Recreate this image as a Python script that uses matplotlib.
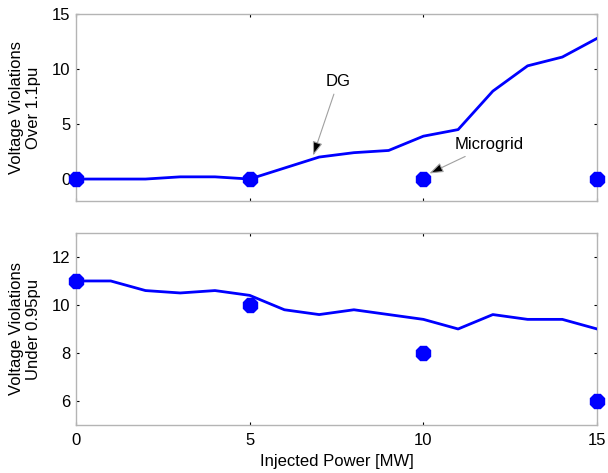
import matplotlib
matplotlib.use('Agg')
import matplotlib.pyplot as plt

plt.rcParams['font.family'] = ['Liberation Sans', 'DejaVu Sans']

# injected power [MW]
power = list(range(16))
# DG case (line)
dg_over = [0, 0, 0, 0.2, 0.2, 0, 1.0, 2.0, 2.4, 2.6, 3.9, 4.5, 8.0, 10.3, 11.1, 12.8]
dg_under = [11.0, 11.0, 10.6, 10.5, 10.6, 10.4, 9.8, 9.6, 9.8, 9.6, 9.4, 9.0, 9.6, 9.4, 9.4, 9.0]
# Microgrid case (markers)
mg_power = [0, 5, 10, 15]
mg_over = [0, 0, 0, 0]
mg_under = [11, 10, 8, 6]

BLUE = '#0000ff'
fig = plt.figure(figsize=(6.08, 4.73), dpi=100)
ax1 = fig.add_axes([0.125, 0.575, 0.857, 0.395])
ax2 = fig.add_axes([0.125, 0.1015, 0.857, 0.406])

for ax in (ax1, ax2):
    ax.plot(power, dg_over if ax is ax1 else dg_under, color=BLUE, lw=2, zorder=3)
    ax.plot(mg_power, mg_over if ax is ax1 else mg_under, '8', color=BLUE, ms=11,
            clip_on=False, zorder=4)
    ax.set_xlim(0, 15)
    ax.set_xticks([0, 5, 10, 15])
    ax.tick_params(direction='in', length=2, width=0.8, top=True, right=True,
                   labelsize=12, color='black', pad=4)
    for s in ax.spines.values():
        s.set_color('#b4b4b4')
        s.set_linewidth(1)

ax1.set_ylim(-2, 15)
ax1.set_yticks([0, 5, 10, 15])
ax1.set_xticklabels([])
ax1.set_ylabel('Voltage Violations\nOver 1.1pu', fontsize=12, labelpad=8, linespacing=1.15)

ax2.set_ylim(5, 13)
ax2.set_yticks([6, 8, 10, 12])
ax2.set_ylabel('Voltage Violations\nUnder 0.95pu', fontsize=12, labelpad=8, linespacing=1.15)
ax2.set_xlabel('Injected Power [MW]', fontsize=12, labelpad=4)
ax2.tick_params(axis='x', pad=6)

arrow = dict(arrowstyle='-|>,head_length=0.7,head_width=0.25', fc='black', ec='#a0a0a0', lw=0.8)
ax1.annotate('DG', xy=(6.8, 1.9), xytext=(7.55, 8.9), fontsize=12, ha='center', va='center',
             arrowprops=arrow)
ax1.annotate('Microgrid', xy=(10.1, 0.4), xytext=(11.9, 3.1), fontsize=12, ha='center', va='center',
             arrowprops=arrow)

fig.savefig('out.png', dpi=100)
